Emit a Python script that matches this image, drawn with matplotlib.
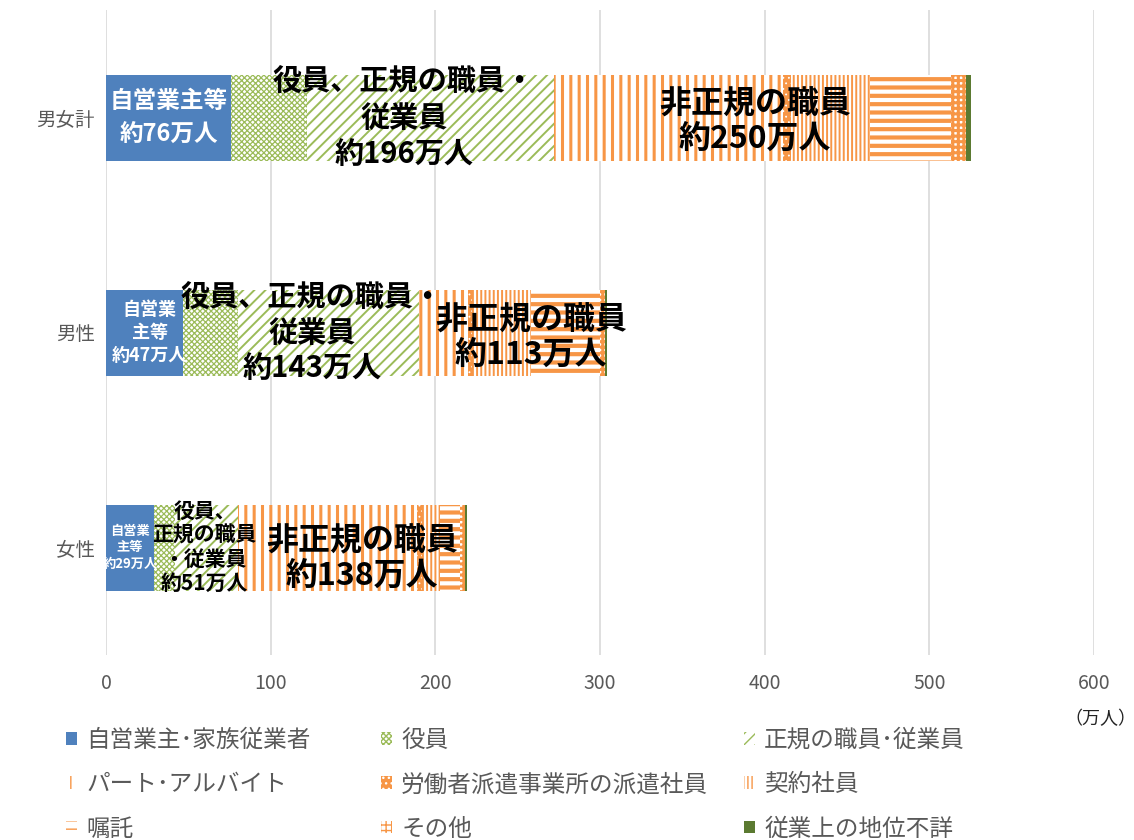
import numpy as np
import matplotlib.pyplot as plt

plt.rcParams['font.family'] = ['Noto Sans CJK JP', 'DejaVu Sans']

# データ（万人）
groups = ['男女計', '男性', '女性']
series = ['自営業主･家族従業者', '役員', '正規の職員･従業員', 'パート･アルバイト',
          '労働者派遣事業所の派遣社員', '契約社員', '嘱託', 'その他', '従業上の地位不詳']
jieigyo = [76, 47, 29]
yakuin = [46, 33, 13]
seiki = [150, 110, 38]
part = [139, 30, 109]
haken = [5, 2, 3]
keiyaku = [48, 36, 11]
shokutaku = [49, 42, 12]
sonota = [9, 3, 3]
fusho = [3, 1.5, 1]
values = [jieigyo, yakuin, seiki, part, haken, keiyaku, shokutaku, sonota, fusho]

# バー内の注釈テキスト
self_labels = ['自営業主等\n約76万人', '自営業\n主等\n約47万人', '自営業\n主等\n約29万人']
reg_labels = ['役員、正規の職員・\n従業員\n約196万人', '役員、正規の職員・\n従業員\n約143万人',
              '役員、\n正規の職員\n・従業員\n約51万人']
nonreg_labels = ['非正規の職員\n約250万人', '非正規の職員\n約113万人', '非正規の職員\n約138万人']

blue = '#4F81BD'
green = '#9BBB59'
orange = '#F79646'
olive = '#5B7A31'
# (塗り, ハッチ色, ハッチ, ハッチ線幅)
styles = [
    (blue, blue, None, 1.0),
    ('white', green, 'xxxxxx', 0.9),
    ('white', green, '///', 1.4),
    ('white', orange, '||', 2.2),
    (orange, 'white', '...', 0.6),
    ('white', orange, '||||', 1.4),
    ('white', orange, '--', 3.0),
    ('white', orange, '+++', 2.2),
    (olive, olive, None, 1.0),
]

fig = plt.figure(figsize=(11.34, 8.4), dpi=100)
ax = fig.add_axes([106 / 1134, 185 / 840, 988 / 1134, 645 / 840])

y = np.arange(len(groups))
left = np.zeros(len(groups))
handles = []
for name, vals, (fc, hc, hatch, hlw) in zip(series, values, styles):
    with plt.rc_context({'hatch.linewidth': hlw}):
        bars = ax.barh(y, vals, left=left, height=0.4, color=fc, edgecolor=hc,
                       hatch=hatch, linewidth=0, label=name, zorder=2)
    handles.append(bars)
    left = left + np.array(vals)

ax.set_xlim(0, 600)
ax.set_ylim(2.5, -0.5)
ax.set_xticks(range(0, 601, 100))
ax.set_yticks(y)
ax.set_yticklabels(groups)
ax.grid(axis='x', color='#D9D9D9', linewidth=1.2, zorder=0)
ax.set_axisbelow(True)
for s in ax.spines.values():
    s.set_visible(False)
ax.tick_params(axis='x', length=0, pad=13, labelsize=14, labelcolor='#595959')
ax.tick_params(axis='y', length=0, pad=8, labelsize=14, labelcolor='#595959')

# 注釈
self_x = [38, 26.5, 14.5]
self_fs = [17, 13, 9.5]
self_ls = [1.44, 1.24, 1.25]
reg_x = [181, 125, 60]
reg_fs = [21, 21, 15]
reg_ls = [1.27, 1.25, 1.17]
nonreg_x = [394, 258, 155.5]
nonreg_y = [0.02, 0.025, 0.05]
for i in range(3):
    ax.text(self_x[i], y[i], self_labels[i], ha='center', va='center', color='white',
            fontsize=self_fs[i], fontweight='bold', linespacing=self_ls[i], zorder=5)
    ax.text(reg_x[i], y[i], reg_labels[i], ha='center', va='center', color='black',
            fontsize=reg_fs[i], fontweight='bold', linespacing=reg_ls[i], zorder=5)
    ax.text(nonreg_x[i], y[i] + nonreg_y[i], nonreg_labels[i], ha='center', va='center',
            color='black', fontsize=23, fontweight='bold', linespacing=1.1, zorder=5)

fig.text(1100 / 1134, 1 - 719 / 840, '（万人）', ha='center', va='center', fontsize=13, color='#222222')

# 凡例（行方向の並びに合わせて列ごとに配置）
cols = [[0, 3, 6], [1, 4, 7], [2, 5, 8]]
col_x = [66 / 1134, 381 / 1134, 744 / 1134]
for c, idx in enumerate(cols):
    fig.legend([handles[k] for k in idx], [series[k] for k in idx], loc='upper left',
               bbox_to_anchor=(col_x[c], 1 - 729 / 840), frameon=False, fontsize=17,
               labelcolor='#595959', handlelength=0.45, handleheight=0.45,
               handletextpad=0.4, labelspacing=0.9, borderpad=0, borderaxespad=0)

fig.savefig('out.png', dpi=100)
